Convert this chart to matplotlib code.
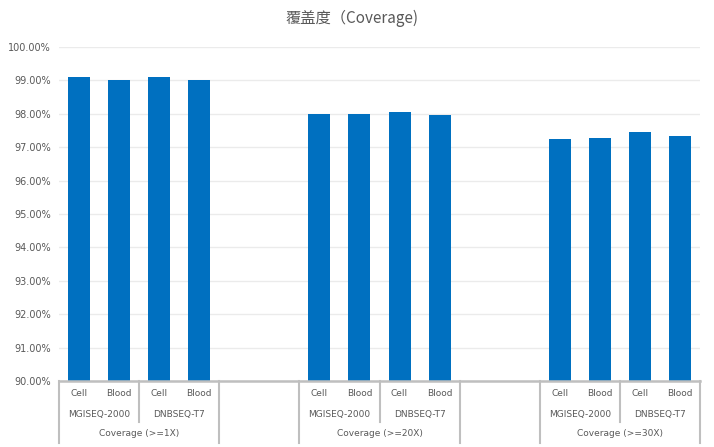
import matplotlib.pyplot as plt
import matplotlib.transforms as mtransforms
from matplotlib.ticker import FuncFormatter

GROUPS = ["Coverage (>=1X)", "Coverage (>=20X)", "Coverage (>=30X)"]
PLATFORMS = ["MGISEQ-2000", "DNBSEQ-T7"]
SAMPLES = ["Cell", "Blood"]
# values per group: MGISEQ Cell, MGISEQ Blood, DNBSEQ Cell, DNBSEQ Blood
COV_1X = [99.11, 99.02, 99.11, 99.02]
COV_20X = [97.98, 97.98, 98.04, 97.95]
COV_30X = [97.25, 97.28, 97.46, 97.34]
VALUES = [COV_1X, COV_20X, COV_30X]

BAR_COLOR = "#0070C0"
TEXT_COLOR = "#595959"
LINE_COLOR = "#BFBFBF"
GAP_SLOTS = 2


def main():
    fig = plt.figure(figsize=(7.14, 4.47), dpi=100)
    H = 447.0
    ax = fig.add_axes([59 / 714, 66 / H, 641 / 714, 334 / H])

    n_bars = len(PLATFORMS) * len(SAMPLES)
    step = n_bars + GAP_SLOTS
    xs, ys = [], []
    for g, vals in enumerate(VALUES):
        for i, v in enumerate(vals):
            xs.append(g * step + i)
            ys.append(v)
    ax.bar(xs, ys, width=0.55, color=BAR_COLOR, bottom=0, zorder=3)

    total = len(GROUPS) * step - GAP_SLOTS
    ax.set_xlim(-0.5, total - 0.5)
    ax.set_ylim(90, 100)
    ax.set_yticks([90 + i for i in range(11)])
    ax.yaxis.set_major_formatter(FuncFormatter(lambda v, p: f"{v:.2f}%"))
    ax.tick_params(axis="y", length=0, labelsize=7, labelcolor=TEXT_COLOR, pad=6)
    ax.set_xticks([])
    ax.grid(axis="y", color="#EBEBEB", linewidth=1, zorder=0)
    for s in ["top", "right", "left", "bottom"]:
        ax.spines[s].set_visible(False)

    # multi-level category axis
    tr = mtransforms.blended_transform_factory(ax.transData, ax.transAxes)
    ah = 334.0
    y0 = 0.0
    y_short = -41 / ah
    y_full = -62 / ah
    ax.plot([-0.5, total - 0.5], [y0, y0], transform=tr, color=LINE_COLOR,
            linewidth=1.8, clip_on=False, zorder=4)
    for g, grp in enumerate(GROUPS):
        start = g * step - 0.5
        end = start + n_bars
        for xv in (start, end):
            ax.plot([xv, xv], [y0, y_full], transform=tr, color=LINE_COLOR,
                    linewidth=1.5, clip_on=False)
        for p, plat in enumerate(PLATFORMS):
            ps = start + p * len(SAMPLES)
            if p > 0:
                ax.plot([ps, ps], [y0, y_short], transform=tr, color=LINE_COLOR,
                        linewidth=1.5, clip_on=False)
            for s, smp in enumerate(SAMPLES):
                ax.text(ps + s + 0.5, -13 / ah, smp, transform=tr, ha="center",
                        va="center", fontsize=6.5, color=TEXT_COLOR)
            ax.text(ps + len(SAMPLES) / 2, -33 / ah, plat, transform=tr,
                    ha="center", va="center", fontsize=6.5, color=TEXT_COLOR)
        ax.text(start + n_bars / 2, -52 / ah, grp, transform=tr, ha="center",
                va="center", fontsize=6.5, color=TEXT_COLOR)

    fig.text(352 / 714, 1 - 18 / H, "覆盖度（Coverage)", ha="center", va="center",
             fontsize=11, color=TEXT_COLOR,
             family=["Noto Sans CJK SC", "DejaVu Sans"])

    fig.savefig("out.png", dpi=100)


if __name__ == "__main__":
    main()
